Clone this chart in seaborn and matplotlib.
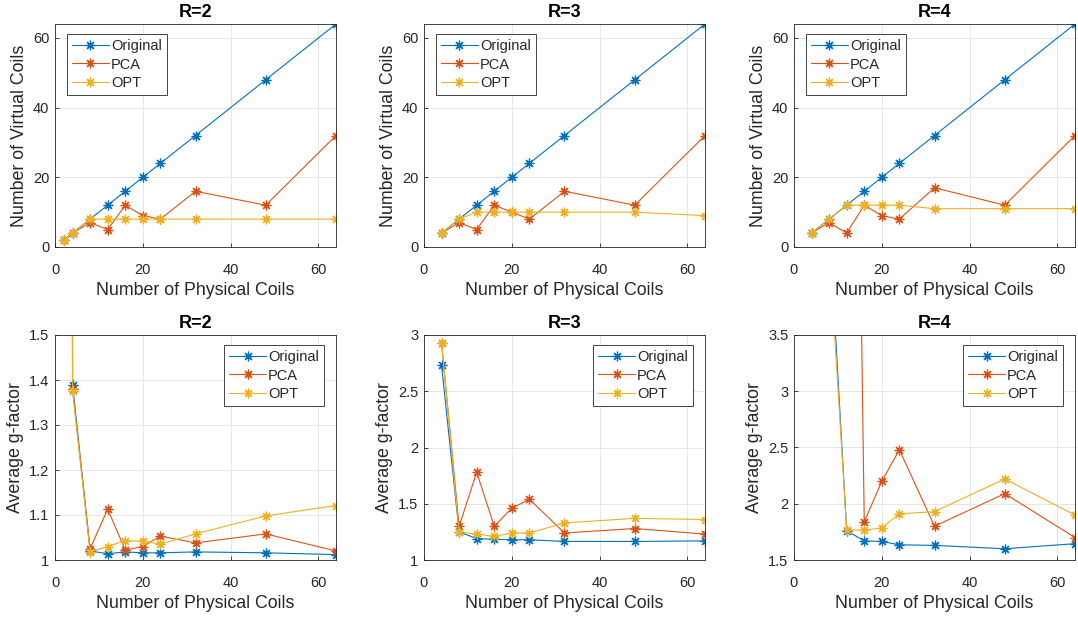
import numpy as np
import pandas as pd
import matplotlib
matplotlib.use("Agg")
import matplotlib.pyplot as plt
from matplotlib.ticker import FuncFormatter
import seaborn as sns

# ---- data -------------------------------------------------------------
series_names = ["Original", "PCA", "OPT"]
series_colors = ["#0072BD", "#D95319", "#EDB120"]
titles = ["R=2", "R=3", "R=4"]

coils_r2 = [2, 4, 8, 12, 16, 20, 24, 32, 48, 64]
coils_r34 = [4, 8, 12, 16, 20, 24, 32, 48, 64]

# number of virtual coils
vc_r2_original = [2, 4, 8, 12, 16, 20, 24, 32, 48, 64]
vc_r2_pca = [2, 4, 7, 5, 12, 9, 8, 16, 12, 32]
vc_r2_opt = [2, 4, 8, 8, 8, 8, 8, 8, 8, 8]

vc_r3_original = [4, 8, 12, 16, 20, 24, 32, 48, 64]
vc_r3_pca = [4, 7, 5, 12, 10, 8, 16, 12, 32]
vc_r3_opt = [4, 8, 10, 10, 10, 10, 10, 10, 9]

vc_r4_original = [4, 8, 12, 16, 20, 24, 32, 48, 64]
vc_r4_pca = [4, 7, 4, 12, 9, 8, 17, 12, 32]
vc_r4_opt = [4, 8, 12, 12, 12, 12, 11, 11, 11]

# average g-factor
g_r2_original = [15.0, 1.390, 1.020, 1.014, 1.018, 1.016, 1.016, 1.018, 1.016, 1.012]
g_r2_pca = [15.0, 1.380, 1.025, 1.113, 1.022, 1.030, 1.053, 1.038, 1.058, 1.020]
g_r2_opt = [15.0, 1.376, 1.018, 1.030, 1.043, 1.042, 1.035, 1.058, 1.098, 1.121]

g_r3_original = [2.73, 1.25, 1.19, 1.185, 1.18, 1.18, 1.165, 1.165, 1.17]
g_r3_pca = [2.93, 1.30, 1.78, 1.30, 1.46, 1.54, 1.24, 1.28, 1.23]
g_r3_opt = [2.93, 1.25, 1.23, 1.21, 1.24, 1.24, 1.33, 1.37, 1.36]

g_r4_original = [25.0, 4.50, 1.76, 1.67, 1.665, 1.635, 1.63, 1.60, 1.645]
g_r4_pca = [40.0, 30.0, 13.0, 1.84, 2.20, 2.48, 1.80, 2.09, 1.70]
g_r4_opt = [25.0, 4.30, 1.77, 1.765, 1.785, 1.91, 1.93, 2.22, 1.90]

top_panels = [
    (coils_r2, [vc_r2_original, vc_r2_pca, vc_r2_opt]),
    (coils_r34, [vc_r3_original, vc_r3_pca, vc_r3_opt]),
    (coils_r34, [vc_r4_original, vc_r4_pca, vc_r4_opt]),
]
bottom_panels = [
    (coils_r2, [g_r2_original, g_r2_pca, g_r2_opt]),
    (coils_r34, [g_r3_original, g_r3_pca, g_r3_opt]),
    (coils_r34, [g_r4_original, g_r4_pca, g_r4_opt]),
]
top_ylim = (0, 64)
top_yticks = [0, 20, 40, 60]
bottom_ylims = [(1.0, 1.5), (1.0, 3.0), (1.5, 3.5)]
bottom_yticks = [
    [1.0, 1.1, 1.2, 1.3, 1.4, 1.5],
    [1.0, 1.5, 2.0, 2.5, 3.0],
    [1.5, 2.0, 2.5, 3.0, 3.5],
]
xticks = [0, 20, 40, 60]

# ---- style ------------------------------------------------------------
sns.set_style("ticks")
plt.rcParams["font.family"] = ["Liberation Sans", "DejaVu Sans"]
dark = "#262626"
plt.rcParams.update({
    "axes.edgecolor": dark,
    "axes.linewidth": 0.6,
    "xtick.color": dark,
    "ytick.color": dark,
    "xtick.direction": "in",
    "ytick.direction": "in",
    "xtick.major.size": 3,
    "ytick.major.size": 3,
    "xtick.major.width": 0.6,
    "ytick.major.width": 0.6,
    "xtick.major.pad": 11.5,
    "ytick.major.pad": 4,
    "xtick.labelsize": 10.5,
    "ytick.labelsize": 10.5,
    "axes.labelsize": 12.8,
    "axes.labelcolor": dark,
})

W, H = 1078, 617
fig = plt.figure(figsize=(W / 100, H / 100), dpi=100)

lefts = [55, 424, 794]
width = 281
rows = [(24, 247), (335, 560)]  # (top, bottom) in pixels

# MATLAB-style asterisk: four strokes crossing at the centre
asterisk = (8, 2, 0)


def make_axes(left, top, bottom):
    return fig.add_axes([left / W, 1 - bottom / H, width / W, (bottom - top) / H])


fmt = FuncFormatter(lambda v, _: f"{v:g}")


def draw_panel(ax, coils, ys, ylim, yticks, ylabel, title, legend_loc):
    for name, color, vals in zip(series_names, series_colors, ys):
        df = pd.DataFrame({"coils": coils, "value": vals})
        sns.lineplot(data=df, x="coils", y="value", ax=ax, color=color,
                     marker=asterisk, markersize=7, markeredgewidth=0.9,
                     markeredgecolor=color, linewidth=0.8, label=name,
                     sort=False, estimator=None)
    ax.set_xlim(0, 64)
    ax.set_ylim(*ylim)
    ax.set_xticks(xticks)
    ax.set_yticks(yticks)
    ax.xaxis.set_major_formatter(fmt)
    ax.yaxis.set_major_formatter(fmt)
    ax.grid(True, color="#e2e2e2", linewidth=0.6)
    ax.set_axisbelow(True)
    for s in ax.spines.values():
        s.set_visible(True)
    ax.set_xlabel("Number of Physical Coils", labelpad=3.5)
    ax.set_ylabel(ylabel, labelpad=4)
    ax.set_title(title, fontsize=13, fontweight="bold", color="black", pad=5)
    if legend_loc == "upper left":
        anchor = (0.043, 0.955)
    else:
        anchor = (0.957, 0.955)
    leg = ax.legend(loc=legend_loc, bbox_to_anchor=anchor, borderaxespad=0,
                    fontsize=10.5, frameon=True, fancybox=False, framealpha=1,
                    edgecolor=dark, handlelength=2.5, handletextpad=0.15,
                    labelspacing=0.3, borderpad=0.35)
    leg.get_frame().set_linewidth(0.6)


for i, (coils, ys) in enumerate(top_panels):
    ax = make_axes(lefts[i], *rows[0])
    draw_panel(ax, coils, ys, top_ylim, top_yticks,
               "Number of Virtual Coils", titles[i], "upper left")

for i, (coils, ys) in enumerate(bottom_panels):
    ax = make_axes(lefts[i], *rows[1])
    draw_panel(ax, coils, ys, bottom_ylims[i], bottom_yticks[i],
               "Average g-factor", titles[i], "upper right")

fig.savefig("out.png", dpi=100, facecolor="white")
